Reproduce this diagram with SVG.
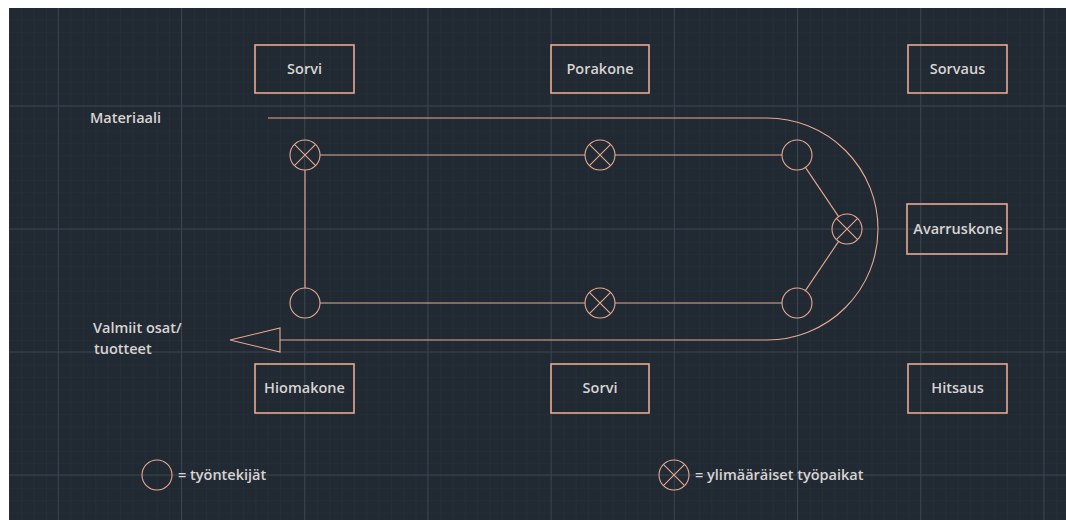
<svg xmlns="http://www.w3.org/2000/svg" width="1066" height="520" viewBox="0 0 1066 520">
  <defs>
    <pattern id="minor" patternUnits="userSpaceOnUse" x="58.3" y="106" width="12.32" height="12.32">
      <path d="M0,0 V12.32 M0,0 H12.32" fill="none" stroke="#283039" stroke-width="1"/>
    </pattern>
    <style>
      .ln { fill: none; stroke: #e8a992; stroke-width: 1.1; }
      .box { fill: none; stroke: #e8a992; stroke-width: 1.6; }
      .tx { font-family: "Open Sans", "Noto Sans", sans-serif; font-size: 14.5px; font-weight: 600; fill: #d8d4d3; }
      .mid { text-anchor: middle; }
      .major { stroke: #3b4451; stroke-width: 1; }
    </style>
  </defs>
  <rect x="0" y="0" width="1066" height="520" fill="#ffffff"/>
  <rect x="9" y="8" width="1057" height="512" fill="#212932"/>
  <rect x="9" y="8" width="1057" height="512" fill="url(#minor)"/>
  <g id="grid" class="major">
    <line x1="58.3" y1="8" x2="58.3" y2="520"/>
    <line x1="181.5" y1="8" x2="181.5" y2="520"/>
    <line x1="304.7" y1="8" x2="304.7" y2="520"/>
    <line x1="427.9" y1="8" x2="427.9" y2="520"/>
    <line x1="551.1" y1="8" x2="551.1" y2="520"/>
    <line x1="674.3" y1="8" x2="674.3" y2="520"/>
    <line x1="797.5" y1="8" x2="797.5" y2="520"/>
    <line x1="920.7" y1="8" x2="920.7" y2="520"/>
    <line x1="1043.9" y1="8" x2="1043.9" y2="520"/>
    <line x1="9" y1="106" x2="1066" y2="106"/>
    <line x1="9" y1="229" x2="1066" y2="229"/>
    <line x1="9" y1="352" x2="1066" y2="352"/>
    <line x1="9" y1="475" x2="1066" y2="475"/>
  </g>

  <g id="machine-sorvi-top"><rect class="box" x="255" y="45" width="99" height="48"/><text class="tx mid" x="304.5" y="74">Sorvi</text></g>
  <g id="machine-porakone"><rect class="box" x="551" y="45" width="98" height="48"/><text class="tx mid" x="600" y="74">Porakone</text></g>
  <g id="machine-sorvaus"><rect class="box" x="908" y="45" width="99" height="48"/><text class="tx mid" x="957.5" y="74">Sorvaus</text></g>
  <g id="machine-avarruskone"><rect class="box" x="907" y="204" width="100" height="50"/><text class="tx mid" x="958" y="234">Avarruskone</text></g>
  <g id="machine-hiomakone"><rect class="box" x="255" y="364" width="99" height="49"/><text class="tx mid" x="304.5" y="393">Hiomakone</text></g>
  <g id="machine-sorvi-bottom"><rect class="box" x="551" y="364" width="98" height="49"/><text class="tx mid" x="600" y="393">Sorvi</text></g>
  <g id="machine-hitsaus"><rect class="box" x="908" y="364" width="99" height="49"/><text class="tx mid" x="957.5" y="393">Hitsaus</text></g>

  <g id="label-materiaali"><text class="tx" x="90" y="123">Materiaali</text></g>
  <g id="label-valmiit"><text class="tx" x="93" y="333">Valmiit osat/</text><text class="tx" x="94" y="354">tuotteet</text></g>

  <g id="connectors">
    <path class="ln" d="M268,118 H767 A111,111 0 0 1 767,340 H280"/>
    <polygon class="ln" points="230,340 280,328 280,352"/>
    <line class="ln" x1="320" y1="155" x2="585" y2="155"/>
    <line class="ln" x1="615" y1="155" x2="782" y2="155"/>
    <line class="ln" x1="320" y1="303" x2="585" y2="303"/>
    <line class="ln" x1="615" y1="303" x2="782" y2="303"/>
    <line class="ln" x1="305" y1="170" x2="305" y2="288"/>
    <line class="ln" x1="805.4" y1="167.4" x2="838.6" y2="216.6"/>
    <line class="ln" x1="805.4" y1="290.6" x2="838.6" y2="241.4"/>
  </g>

  <g id="station-1"><circle class="ln" cx="305" cy="155" r="15"/><path class="ln" d="M294.4,144.4 L315.6,165.6 M315.6,144.4 L294.4,165.6"/></g>
  <g id="station-2"><circle class="ln" cx="600" cy="155" r="15"/><path class="ln" d="M589.4,144.4 L610.6,165.6 M610.6,144.4 L589.4,165.6"/></g>
  <g id="worker-1"><circle class="ln" cx="797" cy="155" r="15"/></g>
  <g id="station-3"><circle class="ln" cx="847" cy="229" r="15"/><path class="ln" d="M836.4,218.4 L857.6,239.6 M857.6,218.4 L836.4,239.6"/></g>
  <g id="worker-2"><circle class="ln" cx="797" cy="303" r="15"/></g>
  <g id="station-4"><circle class="ln" cx="600" cy="303" r="15"/><path class="ln" d="M589.4,292.4 L610.6,313.6 M610.6,292.4 L589.4,313.6"/></g>
  <g id="worker-3"><circle class="ln" cx="305" cy="303" r="15"/></g>

  <g id="legend-worker"><circle class="ln" cx="157" cy="475" r="15"/><text class="tx" x="178" y="480">= työntekijät</text></g>
  <g id="legend-station"><circle class="ln" cx="674" cy="475" r="15"/><path class="ln" d="M663.4,464.4 L684.6,485.6 M684.6,464.4 L663.4,485.6"/><text class="tx" x="695" y="480">= ylimääräiset työpaikat</text></g>
</svg>
